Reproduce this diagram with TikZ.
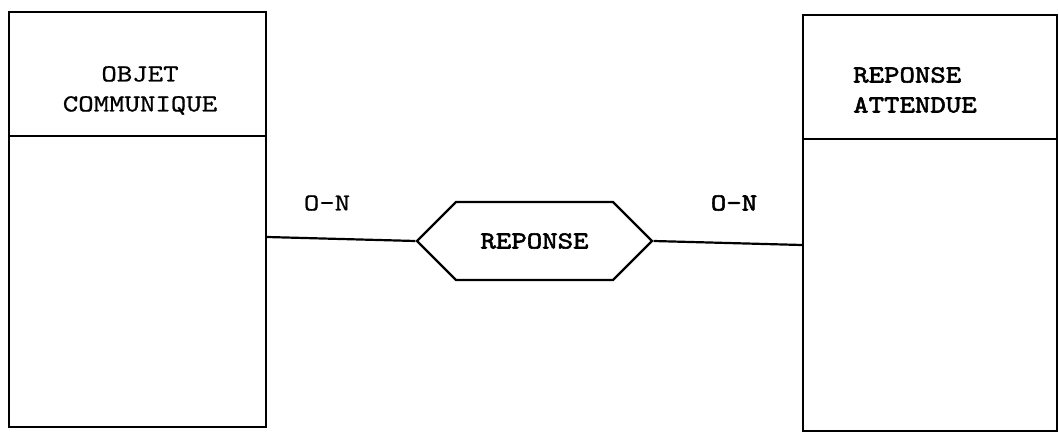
\documentclass[tikz,border=0pt]{standalone}
\usepackage{fontspec}
\newfontfamily\tw{lmmono10-regular}[Extension=.otf, FakeStretch=1.2, FakeBold=0.8]
\newfontfamily\twb{lmmono10-regular}[Extension=.otf, FakeStretch=1.2, FakeBold=2.2]
\usetikzlibrary{shapes.symbols}
\begin{document}
\begin{tikzpicture}[x=1pt,y=-1pt,
  ent/.style={draw, line width=2.2pt, rectangle, inner sep=0pt},
  rel/.style={draw, line width=2.2pt, signal, signal to=west and east, signal pointer angle=90, minimum width=235pt, minimum height=78pt, inner sep=0pt},
  lbl/.style={font=\fontsize{24.5}{30}\selectfont\tw, inner sep=0pt},
  blbl/.style={font=\fontsize{24.5}{30}\selectfont\twb, inner sep=0pt},
  conn/.style={line width=2.2pt}]
\useasboundingbox (0,0) rectangle (1059,433);
% entities
\node[ent, minimum width=257pt, minimum height=415pt] (e1) at (137.5,219.5) {};
\node[ent, minimum width=254pt, minimum height=416pt] (e2) at (930,223) {};
\draw[conn] (e1.west |- 0,136) -- (e1.east |- 0,136);
\draw[conn] (e2.west |- 0,139) -- (e2.east |- 0,139);
\node[lbl, align=center] (t1) at (140,90.5) {OBJET\\COMMUNIQUE};
\node[blbl, align=left, anchor=west] (t2) at (853,90) {REPONSE\\ATTENDUE};
% relation
\node[rel, blbl] (h) at (534.5,241) {REPONSE};
\draw[conn] (e1.east |- 0,237) -- (h.west);
\draw[conn] (h.east) -- (e2.west |- 0,245);
% cardinalities
\node[lbl] (c1) at (327,203) {O-N};
\node[blbl] (c2) at (734,203) {O-N};
\end{tikzpicture}
\end{document}
